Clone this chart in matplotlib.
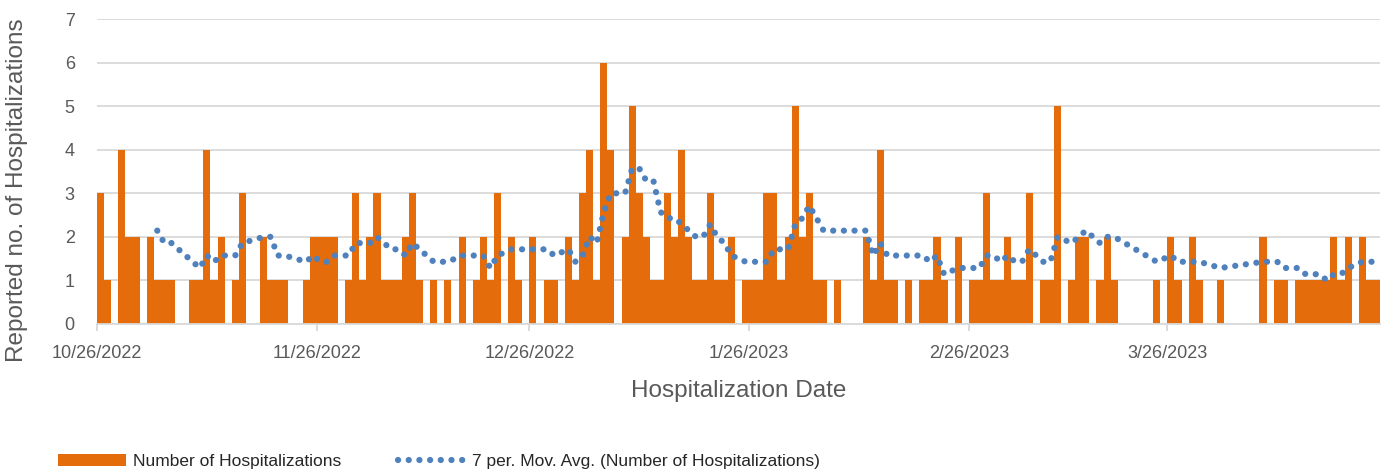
import pandas as pd
import matplotlib
matplotlib.use("Agg")
import matplotlib.pyplot as plt
import matplotlib.dates as mdates
from matplotlib.patches import Patch
from matplotlib.lines import Line2D

plt.rcParams['font.family'] = ['Liberation Sans', 'DejaVu Sans']

# daily counts starting 10/26/2022 (one value per day)
start_date = '2022-10-26'
counts = [
    3, 1, 0, 4, 2, 2, 0, 2, 1, 1, 1, 0, 0, 1, 1, 4, 1, 2, 0, 1,
    3, 0, 0, 2, 1, 1, 1, 0, 0, 1, 2, 2, 2, 2, 0, 1, 3, 1, 2, 3,
    1, 1, 1, 2, 3, 1, 0, 1, 0, 1, 0, 2, 0, 1, 2, 1, 3, 0, 2, 1,
    0, 2, 0, 1, 1, 0, 2, 1, 3, 4, 1, 6, 4, 0, 2, 5, 3, 2, 1, 1,
    3, 2, 4, 2, 1, 1, 3, 1, 1, 2, 0, 1, 1, 1, 3, 3, 1, 2, 5, 2,
    3, 1, 1, 0, 1, 0, 0, 0, 2, 1, 4, 1, 1, 0, 1, 0, 1, 1, 2, 1,
    0, 2, 0, 1, 1, 3, 1, 1, 2, 1, 1, 3, 0, 1, 1, 5, 0, 1, 2, 2,
    0, 1, 2, 1, 0, 0, 0, 0, 0, 1, 0, 2, 1, 0, 2, 1, 0, 0, 1, 0,
    0, 0, 0, 0, 2, 0, 1, 1, 0, 1, 1, 1, 1, 1, 2, 1, 2, 0, 2, 1,
    1,
]
tick_dates = ['2022-10-26', '2022-11-26', '2022-12-26', '2023-01-26', '2023-02-26', '2023-03-26']
tick_labels = ['10/26/2022', '11/26/2022', '12/26/2022', '1/26/2023', '2/26/2023', '3/26/2023']

dates = pd.date_range(start_date, periods=len(counts), freq='D')
s = pd.Series(counts, index=dates)
# Excel only had rows for days with cases; the trendline averages 7 rows
pts = s[s > 0]
ma = pts.rolling(7).mean().dropna()

orange = '#E46C0A'
blue = '#4F81BD'
gray = '#595959'

fig = plt.figure(figsize=(13.83, 4.72), dpi=100)
ax = fig.add_axes([97 / 1383, 1 - 324 / 472, 1283 / 1383, 305 / 472])

x = mdates.date2num(dates)
ax.bar(x, counts, width=1.0, align='edge', color=orange, linewidth=0, zorder=2)
ax.plot(mdates.date2num(ma.index) + 0.5, ma.values, color=blue, lw=4.5,
        linestyle=(0, (0.01, 1.7)), dash_capstyle='round', zorder=3)

ax.set_xlim(x[0], x[-1] + 1)
ax.set_ylim(0, 7)
ax.set_yticks(range(8))
ax.set_xticks(mdates.date2num(pd.to_datetime(tick_dates)))
ax.set_xticklabels(tick_labels)

ax.grid(axis='y', color='#d9d9d9', lw=1.3, zorder=0)
for side in ['top', 'right', 'left']:
    ax.spines[side].set_visible(False)
ax.spines['bottom'].set_color('#d9d9d9')
ax.spines['bottom'].set_linewidth(1.3)
ax.tick_params(axis='x', length=5, width=1.3, color='#d9d9d9', pad=10, labelsize=13, labelcolor=gray)
ax.tick_params(axis='y', length=0, pad=16, labelsize=13, labelcolor=gray)

ax.set_xlabel('Hospitalization Date', fontsize=17.5, color=gray)
ax.set_ylabel('Reported no. of Hospitalizations', fontsize=17.5, color=gray)
ax.xaxis.set_label_coords(0.5, -0.185)
ax.yaxis.set_label_coords(-0.054, 0.44)

handles = [
    Patch(facecolor=orange, edgecolor='none'),
    Line2D([0], [0], color=blue, lw=4.5, linestyle=(0, (0.01, 1.7)), dash_capstyle='round'),
]
names = ['Number of Hospitalizations', '7 per. Mov. Avg. (Number of Hospitalizations)']
leg = fig.legend(handles, names, loc='lower left', bbox_to_anchor=(0.031, -0.027), ncol=2,
                 frameon=False, fontsize=12.5, handlelength=3.9, handletextpad=0.4,
                 columnspacing=3.25)
for t in leg.get_texts():
    t.set_color('#262626')

fig.savefig('out.png', dpi=100)
